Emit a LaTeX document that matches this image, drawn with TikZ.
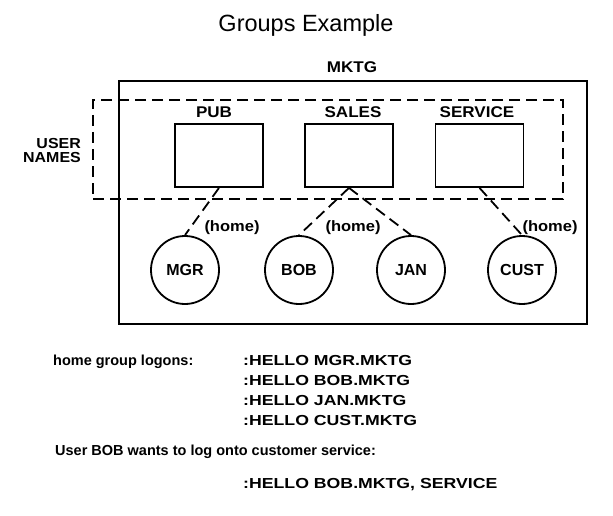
\documentclass[tikz,border=0pt]{standalone}
\usepackage{fontspec}
\setmainfont{Liberation Sans}
\newfontfamily\widefont{Liberation Sans}[FakeStretch=1.22]
\newfontfamily\semiwidefont{Liberation Sans}[FakeStretch=1.1]
\begin{document}
\begin{tikzpicture}[
  x=1pt,
  y=-1pt,
  line join=miter,
  frame/.style={rectangle,draw=black,line width=1.8pt,inner sep=0pt},
  grpbox/.style={rectangle,draw=black,line width=1.8pt,inner sep=0pt,
    minimum width=88pt,minimum height=63pt},
  usernode/.style={circle,draw=black,line width=1.8pt,inner sep=0pt,
    minimum size=68pt,font=\fontsize{16}{16}\selectfont\bfseries},
  homelink/.style={draw=black,line width=1.8pt,dash pattern=on 11pt off 6pt},
  grplabel/.style={font=\semiwidefont\fontsize{15.5}{15.5}\selectfont\bfseries,
    inner sep=0pt,anchor=base},
  homelabel/.style={font=\semiwidefont\fontsize{15}{15}\selectfont\bfseries,
    inner sep=0pt,anchor=base},
  logontext/.style={font=\fontsize{14.5}{14.5}\selectfont\bfseries,inner sep=0pt,
    anchor=base west},
  hellotext/.style={logontext,font=\widefont\fontsize{14.5}{14.5}\selectfont\bfseries}
]
  \useasboundingbox (0,0) rectangle (613,516);

  % Title and the MKTG account.
  \node[font=\fontsize{23.5}{23.5}\selectfont,inner sep=0pt,anchor=base]
    (title) at (306,32) {Groups Example};
  \node[grplabel] (mktglab) at (352,73) {MKTG};
  \node[frame,minimum width=468pt,minimum height=243pt]
    (mktg) at (353,202.5) {};
  \node[frame,dash pattern=on 11pt off 6pt,minimum width=470pt,
    minimum height=99pt] (users) at (328,149.5) {};
  \node[grplabel,anchor=base east,font=\semiwidefont\fontsize{14.5}{14.5}\selectfont\bfseries]
    (userlab) at (81,149) {USER};
  \node[grplabel,anchor=base east,font=\semiwidefont\fontsize{14.5}{14.5}\selectfont\bfseries]
    (nameslab) at (81,162) {NAMES};

  % Groups.
  \node[grpbox] (pub) at (219,155.5) {};
  \node[grpbox] (sales) at (349,155.5) {};
  \node[grpbox] (service) at (479.5,155.5) {};
  \node[grplabel] (publab) at (214,118) {PUB};
  \node[grplabel] (saleslab) at (353,118) {SALES};
  \node[grplabel] (servicelab) at (477,118) {SERVICE};

  % Users and their home groups.
  \node[usernode] (mgr) at (185,270) {MGR};
  \node[usernode] (bob) at (299,270) {BOB};
  \node[usernode] (jan) at (411,270) {JAN};
  \node[usernode] (cust) at (522,270) {CUST};
  \draw[homelink] (pub.south) -- (mgr.north);
  \draw[homelink] (sales.south) -- (bob.north);
  \draw[homelink] (sales.south) -- (jan.north);
  \draw[homelink] (service.south) -- (cust.north);
  \node[homelabel] (home1) at (232,231) {(home)};
  \node[homelabel] (home2) at (353,231) {(home)};
  \node[homelabel] (home3) at (550,231) {(home)};

  % Logons.
  \node[logontext] (homelogons) at (53,365) {home group logons:};
  \foreach \i/\who in {0/MGR,1/BOB,2/JAN,3/CUST} {
    \node[hellotext] (hello\i) at (243,{365+20*\i}) {:HELLO \who.MKTG};
  }
  \node[logontext] (bobwants) at (55,455)
    {User BOB wants to log onto customer service:};
  \node[hellotext] (bobhello) at (243,488) {:HELLO BOB.MKTG, SERVICE};
\end{tikzpicture}
\end{document}
